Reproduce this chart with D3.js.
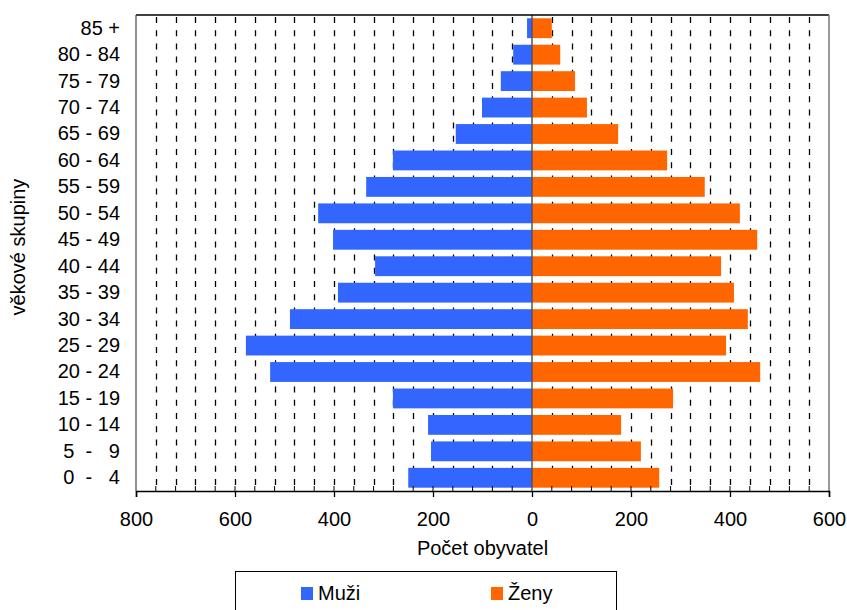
<!DOCTYPE html>
<html><head><meta charset="utf-8">
<script src="https://cdn.jsdelivr.net/npm/d3@7"></script>
<style>body{margin:0;background:#fff}svg{display:block}text{font-family:"Liberation Sans",Arial,sans-serif;fill:#000;white-space:pre}</style>
</head><body><svg id="c" width="847" height="610"></svg>
<script>
const categories = ["85 +","80 - 84","75 - 79","70 - 74","65 - 69","60 - 64","55 - 59","50 - 54","45 - 49","40 - 44","35 - 39","30 - 34","25 - 29","20 - 24","15 - 19","10 - 14","5  -   9","0  -   4"];
const muzi = [10,38,63,101,154,281,335,432,402,317,392,489,578,529,281,210,204,250];
const zeny = [40,57,87,111,174,273,349,420,455,382,408,436,392,461,285,180,220,257];
const xTickValues = [-800,-600,-400,-200,0,200,400,600];
const xTickLabels = ["800","600","400","200","0","200","400","600"];
const seriesNames = ["Muži","Ženy"];
const colors = ["#3366FF","#FF6600"];
const xTitle = "Počet obyvatel";
const yTitle = "věkové skupiny";

const FS = 20;
const svg = d3.select("#c");
const L=136,R=829,T=15,B=491;
const x = d3.scaleLinear().domain([-800,600]).range([L,R]);
const y = d3.scaleBand().domain(categories).range([T,B]).paddingInner(0.25).paddingOuter(0.125);

// dashed gridlines every 40
const grid = d3.range(-760,600,40).filter(v=>v!==0);
svg.append("g").selectAll("line").data(grid).join("line")
  .attr("x1",d=>Math.round(x(d))+0.5).attr("x2",d=>Math.round(x(d))+0.5)
  .attr("y1",T+2).attr("y2",B)
  .attr("stroke","#000").attr("stroke-width",1.3).attr("stroke-dasharray","6,7.2");

// bars
const rows = categories.map((c,i)=>({c,m:muzi[i],z:zeny[i]}));
svg.append("g").selectAll("rect").data(rows).join("rect")
  .attr("x",d=>x(-d.m)).attr("width",d=>x(0)-x(-d.m))
  .attr("y",d=>y(d.c)).attr("height",y.bandwidth()).attr("fill",colors[0]);
svg.append("g").selectAll("rect").data(rows).join("rect")
  .attr("x",x(0)).attr("width",d=>x(d.z)-x(0))
  .attr("y",d=>y(d.c)).attr("height",y.bandwidth()).attr("fill",colors[1]);

// zero line
svg.append("line").attr("x1",x(0)).attr("x2",x(0)).attr("y1",T).attr("y2",B)
  .attr("stroke","#555").attr("stroke-width",1.5);

// frame
svg.append("line").attr("x1",L).attr("x2",R).attr("y1",T).attr("y2",T).attr("stroke","#000").attr("stroke-width",1.3);
svg.append("line").attr("x1",R).attr("x2",R).attr("y1",T).attr("y2",B).attr("stroke","#777").attr("stroke-width",1.5);
svg.append("line").attr("x1",L).attr("x2",L).attr("y1",T).attr("y2",B).attr("stroke","#555").attr("stroke-width",1.3);

// minor ticks on x axis
svg.append("g").selectAll("line").data(grid).join("line")
  .attr("x1",d=>x(d)).attr("x2",d=>x(d)).attr("y1",B-5).attr("y2",B)
  .attr("stroke","#000").attr("stroke-width",1);

// x axis
const xa = d3.axisBottom(x).tickValues(xTickValues).tickSize(6).tickPadding(15)
  .tickFormat((d,i)=>xTickLabels[i]);
const gx = svg.append("g").attr("transform",`translate(0,${B})`).call(xa);
gx.select(".domain").attr("stroke","#000").attr("stroke-width",1.5);
gx.selectAll(".tick line").attr("stroke","#000").attr("stroke-width",1.3);
gx.selectAll(".tick text").attr("font-size",FS).attr("font-family","Liberation Sans, Arial");

// y axis labels
const ya = d3.axisLeft(y).tickSize(0).tickPadding(16);
const gy = svg.append("g").attr("transform",`translate(${L},0)`).call(ya);
gy.select(".domain").remove();
gy.selectAll(".tick text").attr("font-size",FS).attr("font-family","Liberation Sans, Arial").style("white-space","pre");

// titles
svg.append("text").attr("x",(L+R)/2).attr("y",555).attr("text-anchor","middle").attr("font-size",FS).text(xTitle);
svg.append("text").attr("transform",`translate(25,${(T+B)/2-6}) rotate(-90)`).attr("text-anchor","middle").attr("font-size",FS).text(yTitle);

// legend
svg.append("rect").attr("x",235.5).attr("y",571.5).attr("width",381).attr("height",60)
  .attr("fill","#fff").attr("stroke","#000").attr("stroke-width",1);
const lg = svg.append("g").selectAll("g").data(seriesNames).join("g")
  .attr("transform",(d,i)=>`translate(${i===0?301:491},587)`);
lg.append("rect").attr("width",12).attr("height",13).attr("fill",(d,i)=>colors[i]);
lg.append("text").attr("x",17).attr("y",13).attr("font-size",FS).text(d=>d);
</script>
</body></html>
